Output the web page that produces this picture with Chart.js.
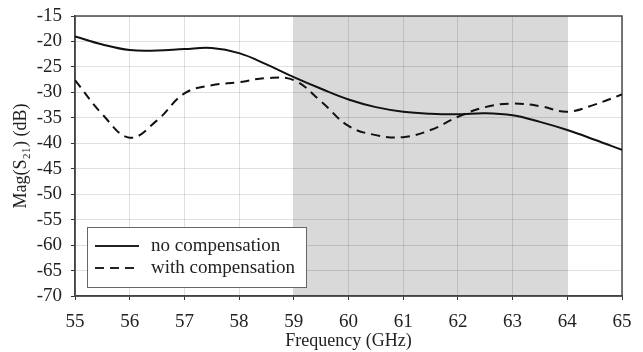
<!DOCTYPE html>
<html>
<head>
<meta charset="utf-8">
<script src="https://cdn.jsdelivr.net/npm/chart.js@4"></script>
<style>
  html, body { margin: 0; padding: 0; background: #fff; }
  #wrap { width: 643px; height: 352px; }
</style>
</head>
<body>
<div id="wrap"><canvas id="chart"></canvas></div>
<script>
// frequency points (GHz)
var freqs = [55, 55.5, 56, 56.5, 57, 57.5, 58, 58.5, 59, 59.5, 60, 60.5, 61, 61.5, 62, 62.5, 63, 63.5, 64, 64.5, 65];
// Mag(S21) in dB
var noComp = [-19, -20.6, -21.7, -21.8, -21.5, -21.3, -22.3, -24.5, -27, -29.3, -31.4, -32.9, -33.8, -34.2, -34.3, -34.1, -34.5, -35.8, -37.4, -39.3, -41.3];
var withComp = [-27.6, -34.3, -38.9, -35.5, -30.2, -28.6, -28, -27.2, -27.6, -31.8, -36.6, -38.4, -38.8, -37.4, -34.8, -32.9, -32.2, -32.7, -33.8, -32.4, -30.4];
var seriesNames = ['no compensation', 'with compensation'];
var shadeRange = [59, 64];
var xTicks = [55, 56, 57, 58, 59, 60, 61, 62, 63, 64, 65];
var yTicks = [-70, -65, -60, -55, -50, -45, -40, -35, -30, -25, -20, -15];

var serif = "'Liberation Serif', 'Times New Roman', serif";

function toPoints(ys) {
    return freqs.map((f, i) => ({ x: f, y: ys[i] }));
}

// grey band behind the grid
var shadePlugin = {
    id: 'shade',
    beforeDraw(chart) {
        var ctx = chart.ctx, a = chart.chartArea, x = chart.scales.x;
        var x0 = x.getPixelForValue(shadeRange[0]);
        var x1 = x.getPixelForValue(shadeRange[1]);
        ctx.save();
        ctx.fillStyle = '#d9d9d9';
        ctx.fillRect(x0, a.top, x1 - x0, a.bottom - a.top);
        ctx.restore();
    },
    beforeDatasetsDraw(chart) {
        var ctx = chart.ctx, a = chart.chartArea;
        ctx.save();
        ctx.strokeStyle = '#4a4a4a';
        ctx.lineWidth = 1.5;
        ctx.strokeRect(a.left, a.top, a.right - a.left, a.bottom - a.top);
        ctx.restore();
    }
};

// legend box in lower left of the plot
var legendPlugin = {
    id: 'boxLegend',
    afterDatasetsDraw(chart) {
        var ctx = chart.ctx;
        var bx = 87, by = 227, bw = 219, bh = 60;
        ctx.save();
        ctx.fillStyle = '#fff';
        ctx.fillRect(bx, by, bw, bh);
        ctx.strokeStyle = '#666';
        ctx.lineWidth = 1;
        ctx.strokeRect(bx + 0.5, by + 0.5, bw, bh);
        ctx.font = '19px ' + serif;
        ctx.textBaseline = 'middle';
        chart.data.datasets.forEach((ds, i) => {
            var ly = by + 19 + i * 22;
            ctx.strokeStyle = '#222';
            ctx.lineWidth = 2;
            ctx.setLineDash(ds.borderDash || []);
            ctx.beginPath();
            ctx.moveTo(bx + 8, ly);
            ctx.lineTo(bx + 52, ly);
            ctx.stroke();
            ctx.setLineDash([]);
            ctx.fillStyle = '#222';
            ctx.fillText(ds.label, bx + 64, ly);
        });
        ctx.restore();
    }
};

var ctx = document.getElementById('chart').getContext('2d');
var chart = new Chart(ctx, {
    type: 'line',
    data: {
        datasets: [{
            label: seriesNames[0],
            data: toPoints(noComp),
            borderColor: '#111',
            borderWidth: 2,
            pointRadius: 0,
            tension: 0.4,
            fill: false
        }, {
            label: seriesNames[1],
            data: toPoints(withComp),
            borderColor: '#111',
            borderWidth: 2,
            borderDash: [9, 6],
            pointRadius: 0,
            tension: 0.4,
            fill: false
        }]
    },
    options: {
        responsive: true,
        maintainAspectRatio: false,
        animation: false,
        layout: { padding: { top: 16, right: 21, left: 10, bottom: 0 } },
        plugins: {
            legend: { display: false },
            tooltip: { enabled: false }
        },
        scales: {
            x: {
                type: 'linear',
                min: 55,
                max: 65,
                afterBuildTicks: s => { s.ticks = xTicks.map(v => ({ value: v })); },
                afterFit: s => { s.height = 56; s.paddingLeft = 0; s.paddingRight = 0; },
                ticks: {
                    color: '#222',
                    font: { family: serif, size: 19 },
                    padding: 11,
                    autoSkip: false,
                    maxRotation: 0
                },
                grid: { color: 'rgba(0,0,0,0.12)', tickColor: '#333', tickLength: 4 },
                border: { color: '#333', width: 1.5 },
                title: {
                    display: true,
                    text: 'Frequency (GHz)',
                    color: '#222',
                    font: { family: serif, size: 18 },
                    padding: { top: 0, bottom: 0 }
                }
            },
            y: {
                min: -70,
                max: -15,
                afterBuildTicks: s => { s.ticks = yTicks.map(v => ({ value: v })); },
                afterFit: s => { s.width = 65; s.paddingTop = 0; s.paddingBottom = 0; },
                ticks: {
                    color: '#222',
                    font: { family: serif, size: 19 },
                    padding: 9,
                    autoSkip: false
                },
                grid: { color: 'rgba(0,0,0,0.12)', tickColor: '#333', tickLength: 4 },
                border: { color: '#333', width: 1.5 },
                title: {
                    display: true,
                    text: 'Mag(S\u2082\u2081) (dB)',
                    color: '#222',
                    font: { family: serif, size: 18 },
                    padding: { top: 0, bottom: 0 }
                }
            }
        }
    },
    plugins: [shadePlugin, legendPlugin]
});
</script>
</body>
</html>
